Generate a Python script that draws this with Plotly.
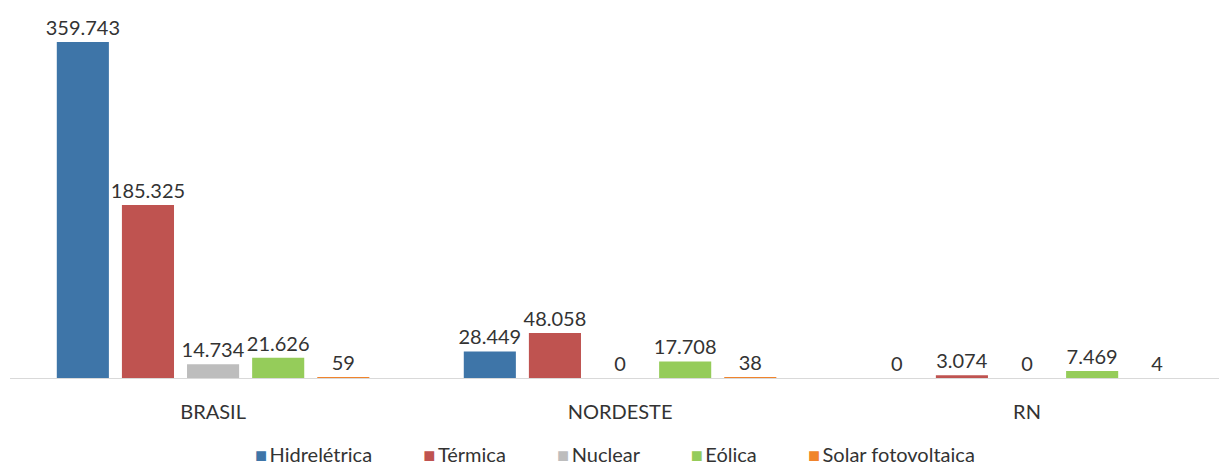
import plotly.graph_objects as go

# Capacidade instalada por fonte (MW)
regioes = ["BRASIL", "NORDESTE", "RN"]
fontes = ["Hidrelétrica", "Térmica", "Nuclear", "Eólica", "Solar fotovoltaica"]
hidreletrica = [359743, 28449, 0]
termica = [185325, 48058, 3074]
nuclear = [14734, 0, 0]
eolica = [21626, 17708, 7469]
solar = [59, 38, 4]
cores = ["#3e75a8", "#bf5350", "#bdbdbd", "#95cc5a", "#f0842c"]

series = [hidreletrica, termica, nuclear, eolica, solar]
FONT = "Lato"
TXT = "#333333"

fig = go.Figure()
for nome, valores, cor in zip(fontes, series, cores):
    fig.add_trace(go.Bar(
        x=regioes, y=valores, name=nome,
        marker=dict(color=cor, line=dict(width=0)),
        text=valores, texttemplate="%{y:,}", textposition="outside",
        constraintext="none",
        textfont=dict(family=FONT, size=20, color=TXT),
        cliponaxis=False, showlegend=False,
    ))

# legenda em linha, abaixo do eixo
sep = "&nbsp;" * 10
itens = sep.join(
    f"<span style='color:{c}'>■</span>&#8201;{n}" for n, c in zip(fontes, cores)
)
fig.add_annotation(
    text=itens, xref="paper", yref="paper", x=0.5, y=-0.212,
    xanchor="center", yanchor="middle", showarrow=False,
    font=dict(family=FONT, size=20, color=TXT),
)

fig.update_layout(
    width=1219, height=466,
    margin=dict(l=10, r=0, t=20, b=88),
    paper_bgcolor="white", plot_bgcolor="white",
    barmode="group", bargap=0.2, bargroupgap=0.2,
    separators=",.",
    xaxis=dict(
        range=[-0.499, 2.4717],
        showline=True, linecolor="#d9d9d9", linewidth=1,
        showgrid=False, ticks="", ticklabelstandoff=16,
        tickfont=dict(family=FONT, size=20, color=TXT),
    ),
    yaxis=dict(
        range=[0, 383298], visible=False, showgrid=False, zeroline=False,
    ),
)

fig.write_html("out.html")
